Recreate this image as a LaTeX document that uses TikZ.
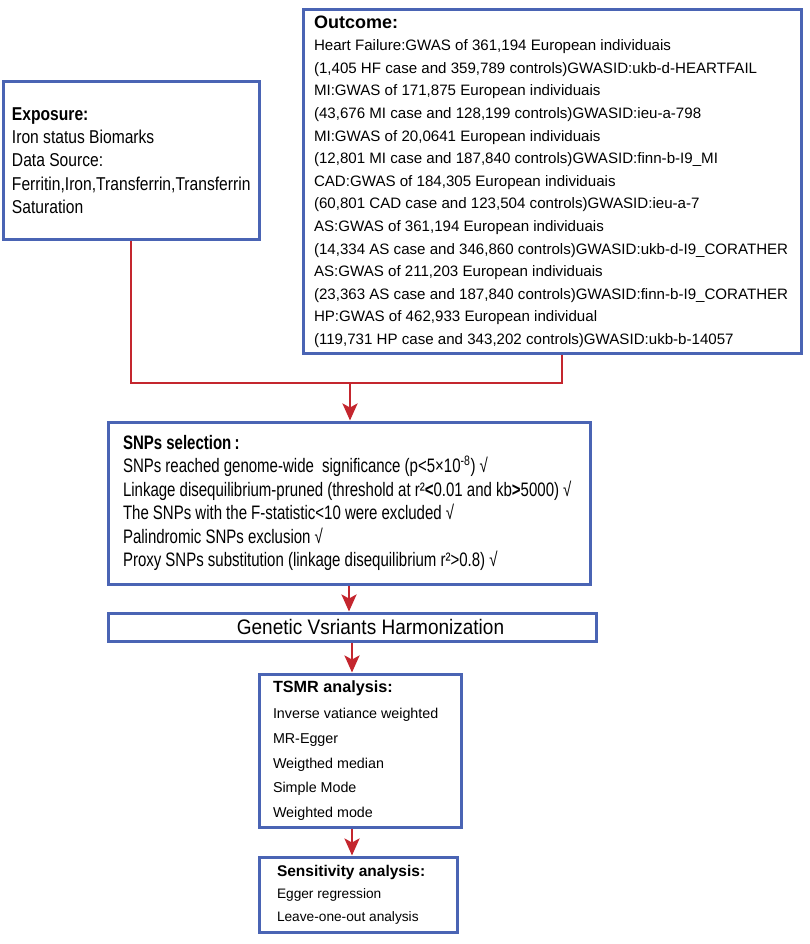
\documentclass[tikz,border=0pt]{standalone}
\usepackage{fontspec}
\setmainfont{Liberation Sans}
\newfontfamily\narrowfont[FakeStretch=0.905]{Liberation Sans}
\newfontfamily\expofont[FakeStretch=0.84]{Liberation Sans}
\newfontfamily\slimfont[FakeStretch=0.77]{Liberation Sans}
\usetikzlibrary{arrows.meta,positioning,calc}
\definecolor{boxblue}{HTML}{4A64B4}
\definecolor{linkred}{HTML}{C4262E}

\begin{document}
\begin{tikzpicture}[x=1pt, y=-1pt,
    box/.style={draw=boxblue, line width=3pt, fill=white, align=flush left, inner ysep=0pt},
    link/.style={draw=linkred, line width=2.7pt},
    arr/.style={link, -{Stealth[width=15pt,length=17pt,inset=4pt]}}]

    \useasboundingbox (0,0) rectangle (810,944);

    % Draw the exposure box
    \node[box, text width=238pt, minimum height=157pt, inner xsep=9pt,
        font={\expofont\fontsize{18.6}{23.2}\selectfont\spaceskip=4.3pt plus 1pt}] (expo) at (131,160.5)
        {\textbf{Exposure:}\\
         Iron status Biomarks\\
         Data Source:\\
         Ferritin,Iron,Transferrin,Transferrin\\
         Saturation};

    % Draw the outcome box
    \node[box, text width=476pt, minimum height=343pt, inner xsep=11pt,
        font={\fontsize{15.1}{22.6}\selectfont}] (outc) at (552,181.5)
        {\textbf{\fontsize{18}{22.6}\selectfont Outcome:}\\
         Heart Failure:GWAS of 361,194 European individuais\\
         (1,405 HF case and 359,789 controls)GWASID:ukb-d-HEARTFAIL\\
         MI:GWAS of 171,875 European individuais\\
         (43,676 MI case and 128,199 controls)GWASID:ieu-a-798\\
         MI:GWAS of 20,0641 European individuais\\
         (12,801 MI case and 187,840 controls)GWASID:finn-b-I9\_MI\\
         CAD:GWAS of 184,305 European individuais\\
         (60,801 CAD case and 123,504 controls)GWASID:ieu-a-7\\
         AS:GWAS of 361,194 European individuais\\
         (14,334 AS case and 346,860 controls)GWASID:ukb-d-I9\_CORATHER\\
         AS:GWAS of 211,203 European individuais\\
         (23,363 AS case and 187,840 controls)GWASID:finn-b-I9\_CORATHER\\
         HP:GWAS of 462,933 European individual\\
         (119,731 HP case and 343,202 controls)GWASID:ukb-b-14057};

    % Draw the SNP selection box
    \node[box, text width=452pt, minimum height=162pt, inner xsep=15pt,
        font={\slimfont\fontsize{19.5}{23.4}\selectfont\spaceskip=4.1pt plus 1pt}] (snps) at (349,503)
        {\textbf{SNPs selection\,:}\\
         SNPs reached genome-wide \ significance (p<5×10\textsuperscript{-8}) √\\
         Linkage disequilibrium-pruned (threshold at r²\textbf{<}0.01 and kb\textbf{>}5000) √\\
         The SNPs with the F-statistic<10 were excluded √\\
         Palindromic SNPs exclusion √\\
         Proxy SNPs substitution (linkage disequilibrium r²>0.8) √};

    % Draw the harmonization box
    \node[box, align=flush center, minimum width=488pt, minimum height=28pt, inner xsep=0pt,
        font={\narrowfont\fontsize{21}{22}\selectfont\spaceskip=5.3pt}] (harm) at (352,627)
        {\hspace*{37pt}Genetic Vsriants Harmonization};

    % Draw the TSMR box
    \node[box, text width=174pt, minimum height=153pt, inner xsep=14pt,
        font={\fontsize{14.3}{24.8}\selectfont}] (tsmr) at (360,750.5)
        {\textbf{\fontsize{16.2}{24.8}\selectfont TSMR analysis:}\\[1.5pt]
         Inverse vatiance weighted\\
         MR-Egger\\
         Weigthed median\\
         Simple Mode\\
         Weighted mode};

    % Draw the sensitivity box
    \node[box, text width=162pt, minimum height=75pt, inner xsep=18pt,
        font={\fontsize{13.7}{22.5}\selectfont}] (sens) at (358,894.5)
        {\textbf{\fontsize{15.5}{22.5}\selectfont Sensitivity analysis:}\\
         Egger regression\\
         Leave-one-out analysis};

    % Draw the connectors
    \coordinate (join) at (350,383);
    \draw[link] (expo.south) |- (join);
    \draw[link] ([xshift=10pt]outc.south) |- (join);
    \draw[arr] (join) -- (join |- snps.north);
    \draw[arr] (snps.south) -- (snps.south |- harm.north);
    \draw[arr] (harm.south) -- (harm.south |- tsmr.north);
    \draw[arr] ([xshift=-8pt]tsmr.south) -- ([xshift=-8pt]tsmr.south |- sens.north);

\end{tikzpicture}
\end{document}
